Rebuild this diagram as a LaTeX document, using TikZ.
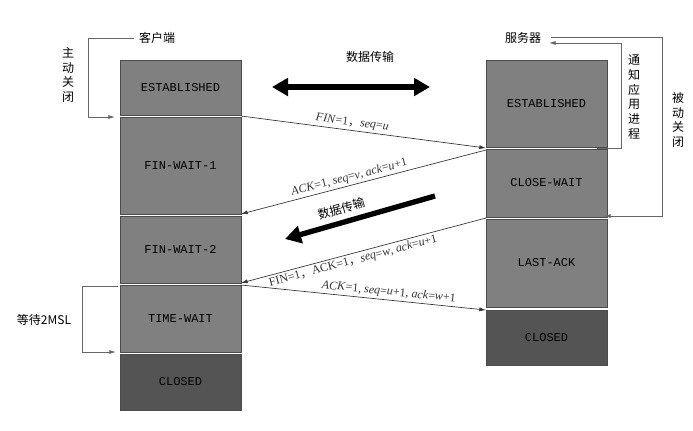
\documentclass[tikz,border=0pt]{standalone}
\usepackage{fontspec}
\setmainfont{Liberation Serif}
\setmonofont{Liberation Mono}
\newfontfamily\cjk{Noto Sans CJK SC}
\usetikzlibrary{arrows.meta}
\newcommand{\cc}{{\cjk ，}}
\tikzset{state/.style = {draw=black!70, fill=black!50, minimum width=90.75pt, inner sep=0pt, font=\ttfamily\small}}
\tikzset{closed/.style = {state, fill=black!67}}
\tikzset{msg/.style = {-{Latex[length=5pt,width=3pt]}, black!80, line width=0.5pt}}
\tikzset{loop/.style = {-{Latex[length=5pt,width=3pt]}, black!60, line width=0.6pt}}
\tikzset{bigarrow/.style = {line width=4pt, -{Triangle[length=12pt,width=13pt]}}}
\tikzset{lbl/.style = {font=\small, sloped, above, inner sep=1.5pt}}
\tikzset{cn/.style = {font=\cjk\small}}
\begin{document}
\begin{tikzpicture}[x=0.75pt, y=-0.75pt]
\useasboundingbox (0,0) rectangle (693,430);
% client states
\node[state, minimum height=41.25pt] (cest) at (180.5,87.5) {ESTABLISHED};
\node[state, minimum height=72.75pt] (fw1) at (180.5,165.5) {FIN-WAIT-1};
\node[state, minimum height=50.25pt] (fw2) at (180.5,249.5) {FIN-WAIT-2};
\node[state, minimum height=50.25pt] (tw) at (180.5,318.5) {TIME-WAIT};
\node[closed, minimum height=42pt] (cclo) at (180.5,382) {CLOSED};
% server states
\node[state, minimum height=65.25pt] (sest) at (546.5,103.5) {ESTABLISHED};
\node[state, minimum height=51pt] (cw) at (546.5,183) {CLOSE-WAIT};
\node[state, minimum height=66pt] (la) at (546.5,263) {LAST-ACK};
\node[closed, minimum height=41.25pt] (sclo) at (546.5,337.5) {CLOSED};
% headers
\node[cn] (client) at (157,38) {客户端};
\node[cn] (server) at (523,38) {服务器};
\node[cn, align=center, inner sep=0pt] (act) at (68,75) {主\\动\\关\\闭};
\node[cn, align=center, inner sep=0pt] (notify) at (634,97) {通\\知\\应\\用\\进\\程};
\node[cn, align=center, inner sep=0pt] (pas) at (678,120) {被\\动\\关\\闭};
\node[cn] (wait) at (44,320) {等待2MSL};
% messages
\coordinate (m1a) at (241,116); \coordinate (m1b) at (486,148);
\coordinate (m2a) at (486,150); \coordinate (m2b) at (241,214);
\coordinate (m3a) at (486,218); \coordinate (m3b) at (241,283);
\coordinate (m4a) at (241,285); \coordinate (m4b) at (486,310);
\draw[msg] (m1a) -- node[lbl, pos=0.45] {\textit{FIN}=1\cc\textit{seq}=\textit{u}} (m1b);
\draw[msg] (m2a) -- node[lbl, pos=0.55] {\textit{ACK}=1, \textit{seq}=\textit{v}, \textit{ack}=\textit{u}+1} (m2b);
\draw[msg] (m3a) -- node[lbl, pos=0.55, below] {FIN=1\cc ACK=1\cc\textit{seq}=\textit{w}, \textit{ack}=\textit{u}+1} (m3b);
\draw[msg] (m4a) -- node[lbl, pos=0.6] {\textit{ACK}=1, \textit{seq}=\textit{u}+1, \textit{ack}=\textit{w}+1} (m4b);
% data transfer
\coordinate (d1a) at (272,87); \coordinate (d1b) at (430,87);
\draw[bigarrow, {Triangle[length=12pt,width=13pt]}-{Triangle[length=12pt,width=13pt]}] (d1a) -- (d1b);
\node[cn] (data1) at (370,57) {数据传输};
\coordinate (d2a) at (435,196); \coordinate (d2b) at (285,239);
\draw[bigarrow] (d2a) -- node[cn, sloped, above=3pt, pos=0.6, inner sep=1pt] {数据传输} (d2b);
% side brackets
\coordinate (b1) at (88,38); \coordinate (b2) at (115,117);
\draw[loop] (client.west) -- (b1) |- (b2);
\coordinate (b3) at (597,148); \coordinate (b4) at (621,43); \coordinate (b5) at (549,43);
\draw[loop] (b3) -| (b4) -- (b5);
\coordinate (b6) at (551,37); \coordinate (b7) at (662,216); \coordinate (b8) at (604,216);
\draw[loop] (b6) -| (b7) -- (b8);
\coordinate (b9) at (118,286); \coordinate (b10) at (82,352); \coordinate (b11) at (116,352);
\draw[loop] (b9) -| (b10) -- (b11);
\end{tikzpicture}
\end{document}
